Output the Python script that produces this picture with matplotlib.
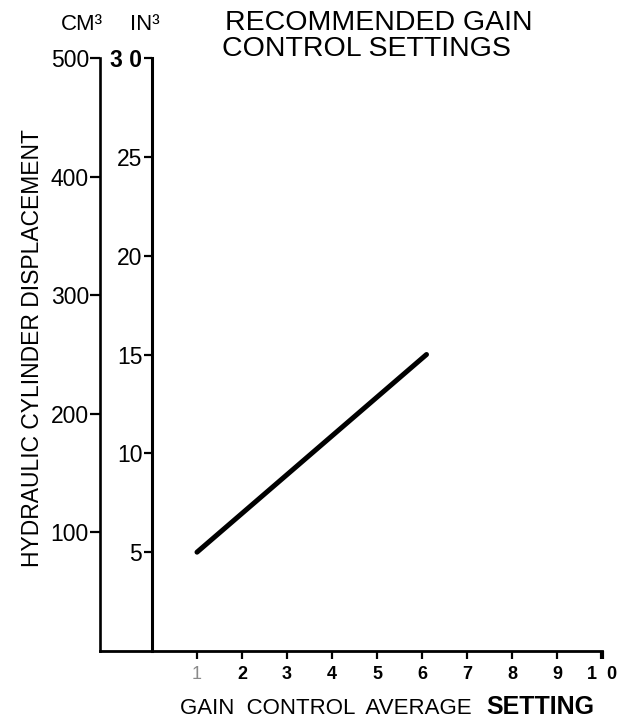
import matplotlib.pyplot as plt

# values
gain_setting = [1, 6.1]
displacement_in3 = [5, 15]

in3_ticks = [5, 10, 15, 20, 25, 30]
in3_labels = ['5', '10', '15', '20', '25', '3 0']
cm3_ticks = [100, 200, 300, 400, 500]
cm3_labels = ['100', '200', '300', '400', '500']
gain_ticks = [1, 2, 3, 4, 5, 6, 7, 8, 9, 10]
gain_labels = ['1', '2', '3', '4', '5', '6', '7', '8', '9', '1  0']

plt.rcParams['font.family'] = ['Liberation Sans', 'DejaVu Sans']

W, H = 627, 720
fig = plt.figure(figsize=(W / 100, H / 100), dpi=100)

# axes box in pixels: left (cm3 spine) 100, right (x=10) 602, top 58, bottom 651
ax = fig.add_axes([100 / W, 1 - 651 / H, (602 - 100) / W, (651 - 58) / H])
ax.set_xlim(-52 / 45, 10)
ax.set_ylim(0, 30)

ax.plot(gain_setting, displacement_in3, color='black', lw=3.6,
        solid_capstyle='round')

# IN3 axis sits at x = 0
for s in ['top', 'right']:
    ax.spines[s].set_visible(False)
ax.spines['left'].set_position(('data', 0))
ax.spines['left'].set_linewidth(2.2)
ax.spines['bottom'].set_linewidth(2.0)
ax.set_yticks(in3_ticks)
ax.set_yticklabels(in3_labels)
ax.tick_params(axis='y', direction='out', length=6, width=1.6,
               labelsize=16.5, pad=1)
ax.get_yticklabels()[-1].set_fontweight('bold')

ax.set_xticks(gain_ticks)
ax.set_xticklabels(gain_labels)
ax.tick_params(axis='x', direction='out', length=6, width=1.6,
               labelsize=13, pad=5)
for lab in ax.get_xticklabels():
    lab.set_fontweight('bold')
ax.get_xticklabels()[0].set_fontweight('normal')
ax.get_xticklabels()[0].set_color('#8a8a8a')
ax.xaxis.get_major_ticks()[-1].tick1line.set_markeredgewidth(3)

# CM3 axis on the far left
ax2 = ax.twinx()
ax2.set_ylim(0, 500)
for s in ['top', 'right', 'bottom']:
    ax2.spines[s].set_visible(False)
ax2.spines['left'].set_visible(True)
ax2.spines['left'].set_position(('axes', 0))
ax2.spines['left'].set_linewidth(1.9)
ax2.yaxis.set_ticks_position('left')
ax2.set_yticks(cm3_ticks)
ax2.set_yticklabels(cm3_labels)
ax2.tick_params(axis='y', direction='out', length=7, width=1.6,
                labelsize=16.5, pad=1)

# texts
fig.text(225 / W, 1 - 23 / H, 'RECOMMENDED GAIN', ha='left', va='center',
         fontsize=20.5)
fig.text(222 / W, 1 - 49 / H, 'CONTROL SETTINGS', ha='left', va='center',
         fontsize=20.5)
fig.text(82 / W, 1 - 24 / H, 'CM³', ha='center', va='center', fontsize=16)
fig.text(145 / W, 1 - 24 / H, 'IN³', ha='center', va='center', fontsize=16)
fig.text(33 / W, 1 - 348 / H, 'HYDRAULIC CYLINDER DISPLACEMENT', rotation=90,
         ha='center', va='center', fontsize=16.5)
fig.text(180 / W, 1 - 708 / H, 'GAIN  CONTROL  AVERAGE', ha='left',
         va='center', fontsize=16)
fig.text(486 / W, 1 - 707 / H, 'SETTING', ha='left', va='center',
         fontsize=18, fontweight='bold',
         family=['Liberation Sans Narrow', 'Liberation Sans'])

fig.savefig('out.png', dpi=100)
